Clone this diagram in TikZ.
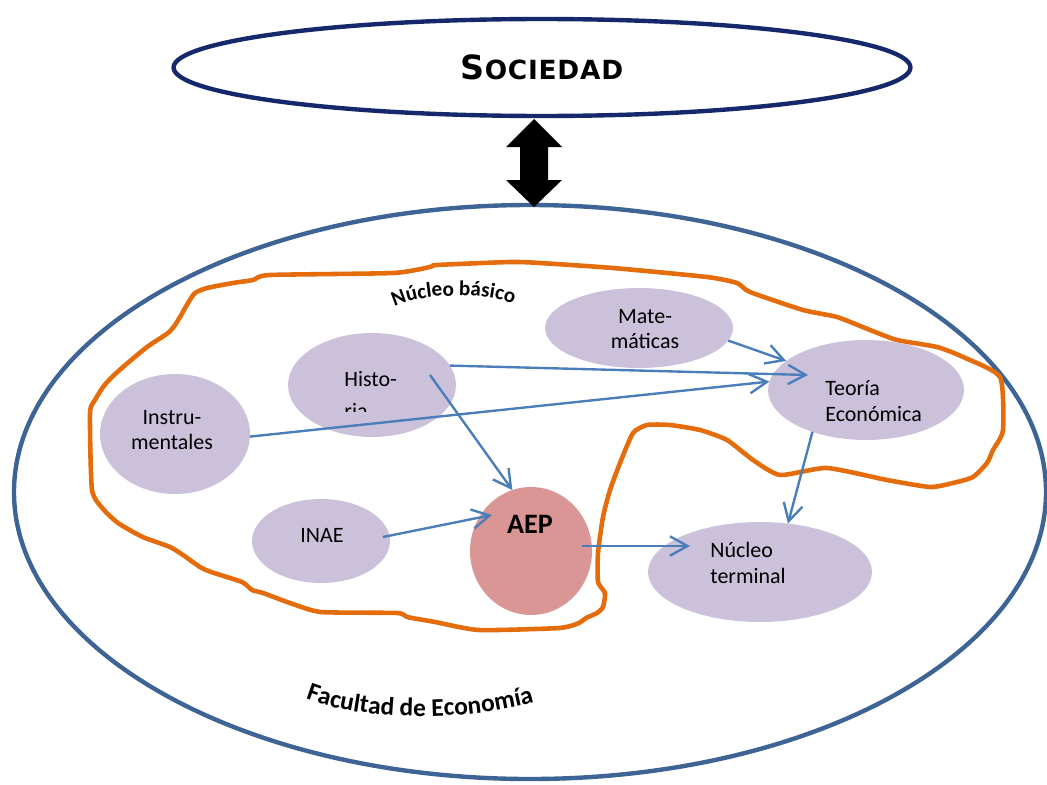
\documentclass[tikz,border=0pt]{standalone}
\usepackage{fontspec}
\setmainfont{Carlito}
\newfontfamily\capsfont{DejaVu Sans}
\usetikzlibrary{shapes.geometric,arrows.meta,decorations.text}
\definecolor{navy}{HTML}{14286B}
\definecolor{facblue}{HTML}{3D6494}
\definecolor{rim}{HTML}{E46C0A}
\definecolor{lilac}{HTML}{CCC1DA}
\definecolor{rose}{HTML}{D99694}
\definecolor{linkblue}{HTML}{4A7EBB}
\newcommand{\bubble}[6]{% x, y, name, width, height (cm), fill
  \node[ellipse,fill=#6,minimum width=#4cm,minimum height=#5cm,inner sep=0,outer sep=0] (#3) at (#1,#2) {};}
\tikzset{
  lbl/.style={font=\fontsize{12.5}{14.5}\selectfont,inner sep=0},
  link/.style={draw=linkblue,line width=1.35pt,->}
}

\begin{document}
\begin{tikzpicture}[x=0.02cm,y=-0.02cm,>={Straight Barb[length=10pt,width=11pt]}]
  \useasboundingbox (0,0) rectangle (1047,784);
  % ---- Facultad de Economia ----
  \draw[facblue,line width=2.5pt] (530,492) ellipse (516 and 287);
  \path[decorate,decoration={text along path,text align=center,
    text={|\bfseries\fontsize{14.5}{16}\selectfont|Facultad de Economía}}]
    (301,697) .. controls (360,722) and (470,722) .. (539,701);
  % ---- nucleo basico, hand drawn border ----
  \draw[rim,line width=2.6pt,line join=round] plot[smooth cycle,tension=0.35] coordinates {
    (90,413) (95,400) (103,387) (112,377) (123,367) (147,347) (168,333) (175,325)
    (180,317) (188,303) (195,293) (207,288) (233,283) (253,280) (270,275) (393,273)
    (430,267) (437,265) (510,262) (540,263) (613,268) (707,277) (737,283) (750,292)
    (803,310) (837,317) (870,330) (897,340) (937,347) (963,357) (1000,377) (1003,430)
    (993,450) (987,463) (973,477) (953,483) (930,487) (887,480) (827,468) (780,475)
    (753,460) (727,440) (700,430) (670,425) (647,425) (633,433) (620,463) (610,490)
    (603,517) (598,553) (598,582) (605,593) (603,607) (597,613) (586,618) (579,623)
    (559,628) (479,630) (435,622) (407,617) (397,613) (321,612) (290,603) (263,593)
    (252,590) (242,582) (211,572) (200,567) (183,555) (170,547) (145,538) (135,533)
    (118,523) (104,510) (92,490)};
  \path[decorate,decoration={text along path,text align=center,
    text={|\bfseries\fontsize{12}{14}\selectfont|Núcleo básico}}]
    (392,308) .. controls (420,292) and (488,292) .. (516,305);
  % ---- subjects ----
  \bubble{639}{328}{mat}{3.76}{1.6}{lilac}
  \bubble{372}{385}{hist}{3.36}{2.08}{lilac}
  \bubble{175}{434}{instr}{3.0}{2.4}{lilac}
  \bubble{321}{541}{inae}{2.76}{1.68}{lilac}
  \bubble{531}{551}{aep}{2.44}{2.56}{rose}
  \bubble{866}{390}{teo}{3.92}{2.0}{lilac}
  \bubble{760}{572}{term}{4.48}{2.0}{lilac}
  \node[lbl,align=center] (mat-t) at (645,329) {Mate-\\máticas};
  \begin{scope}
    \clip (330,360) rectangle (420,411);
    \node[lbl,align=left,anchor=north west] (hist-t) at (344,371) {Histo-\\[3.6pt]ria};
  \end{scope}
  \node[lbl,align=center] (instr-t) at (172,430) {Instru-\\mentales};
  \node[lbl] (inae-t) at (322,535) {INAE};
  \node[inner sep=0,font=\bfseries\fontsize{16}{18}\selectfont] (aep-t) at (530,524) {AEP};
  \node[lbl,align=left,anchor=west] (teo-t) at (825,401) {Teoría\\Económica};
  \node[lbl,align=left,anchor=west] (term-t) at (710,563) {Núcleo\\terminal};
  % ---- links ----
  \coordinate (hist-a) at (430,375);
  \coordinate (teo-a) at (808,375);
  \coordinate (inae-a) at (383,537);
  \coordinate (aep-b) at (492,515);
  \coordinate (aep-a) at (582,546);
  \coordinate (term-a) at (690,546);
  \draw[link] (mat.-8) -- (teo.160);
  \draw[link] (hist.14) -- (teo-a);
  \draw[link] (instr.-2) -- (teo.175);
  \draw[link] (hist-a) -- (aep.107);
  \draw[link] (inae-a) -- (aep-b);
  \draw[link] (aep-a) -- (term-a);
  \draw[link] (teo.-142) -- (term.60);
  % ---- Sociedad ----
  \node[ellipse,draw=navy,line width=2.5pt,minimum width=14.74cm,minimum height=1.94cm,inner sep=0]
    (soc) at (542,67.5) {\capsfont\bfseries\addfontfeature{LetterSpace=3}{\fontsize{19}{20}\selectfont S}\fontsize{15}{16}\selectfont OCIEDAD};
  % two-way block arrow
  \fill (534,119) -- (562,147) -- (548,147) -- (548,180) -- (562,180) -- (534,207)
    -- (506,180) -- (520,180) -- (520,147) -- (506,147) -- cycle;
\end{tikzpicture}
\end{document}
